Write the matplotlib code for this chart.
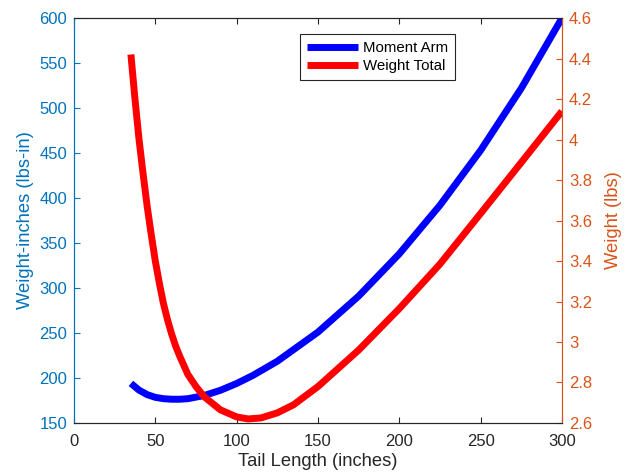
import matplotlib
matplotlib.use('Agg')
import matplotlib.pyplot as plt
from matplotlib.ticker import FuncFormatter
import numpy as np

plt.rcParams['font.family'] = ['Liberation Sans', 'DejaVu Sans']

# Moment arm (left axis, lbs-in)
arm_x = [35, 40, 45, 50, 55, 60, 65, 70, 80, 90, 100, 110, 125, 150, 175, 200, 225, 250, 275, 300]
arm_y = [194, 186.5, 181.5, 178.5, 177, 176.4, 176.4, 177, 180.5, 186.3, 193.9, 202.9, 218.6, 251, 291, 338, 392, 453, 522, 600]

# Total weight (right axis, lbs)
wt_x = [35, 37.5, 40, 42.5, 45, 47.5, 50, 52.5, 55, 57.5, 60, 62.5, 65, 70, 75, 80, 90, 100, 107,
        115, 125, 135, 150, 175, 200, 225, 250, 275, 300]
wt_y = [4.42, 4.20, 4.00, 3.83, 3.67, 3.53, 3.40, 3.29, 3.19, 3.11, 3.04, 2.98, 2.93, 2.84, 2.78, 2.73, 2.665, 2.63, 2.62,
        2.625, 2.65, 2.69, 2.78, 2.96, 3.165, 3.385, 3.635, 3.887, 4.14]

blue_ax = (0, 0.447, 0.741)
orange_ax = (0.85, 0.325, 0.098)
dark = (0.15, 0.15, 0.15)

fig = plt.figure(figsize=(6.35, 4.75), dpi=100)
ax = fig.add_axes([0.1165, 0.1095, 0.7685, 0.8525])
ax2 = ax.twinx()

l1, = ax.plot(arm_x, arm_y, color='#0000ff', lw=5, solid_capstyle='butt',
              solid_joinstyle='round', label='Moment Arm')
l2, = ax2.plot(wt_x, wt_y, color='#ff0000', lw=5, solid_capstyle='butt',
               solid_joinstyle='round', label='Weight Total')

ax.set_xlim(0, 300)
ax.set_ylim(150, 600)
ax2.set_ylim(2.6, 4.6)
ax.set_xticks(np.arange(0, 301, 50))
ax.set_yticks(np.arange(150, 601, 50))
ax2.set_yticks(np.arange(2.6, 4.61, 0.2))
ax2.yaxis.set_major_formatter(FuncFormatter(lambda v, p: '%g' % round(v, 1)))

ax.set_xlabel('Tail Length (inches)', fontsize=13.2, color=dark, labelpad=3)
ax.set_ylabel('Weight-inches (lbs-in)', fontsize=13.2, color=blue_ax, labelpad=4)
ax2.set_ylabel('Weight (lbs)', fontsize=13.2, color=orange_ax, labelpad=9)

ax.tick_params(axis='x', direction='in', top=True, colors=dark, labelsize=12, length=4, pad=8)
ax.tick_params(axis='y', direction='in', colors=blue_ax, labelsize=12, length=4, pad=5)
ax2.tick_params(axis='y', direction='in', colors=orange_ax, labelsize=12, length=4, pad=5)

for a in (ax, ax2):
    a.spines['top'].set_color(dark)
    a.spines['bottom'].set_color(dark)
    a.spines['left'].set_color(blue_ax)
    a.spines['right'].set_color(orange_ax)
    for s in a.spines.values():
        s.set_linewidth(0.8)

leg = ax2.legend([l1, l2], ['Moment Arm', 'Weight Total'], loc='upper left',
                 bbox_to_anchor=(0.4724, 0.9284), bbox_transform=fig.transFigure,
                 fontsize=10.8, fancybox=False, framealpha=1, edgecolor=dark,
                 handlelength=3.4, borderpad=0.45, labelspacing=0.3, handletextpad=0.35,
                 borderaxespad=0)
leg.get_frame().set_linewidth(0.8)

fig.savefig('out.png', dpi=100)
